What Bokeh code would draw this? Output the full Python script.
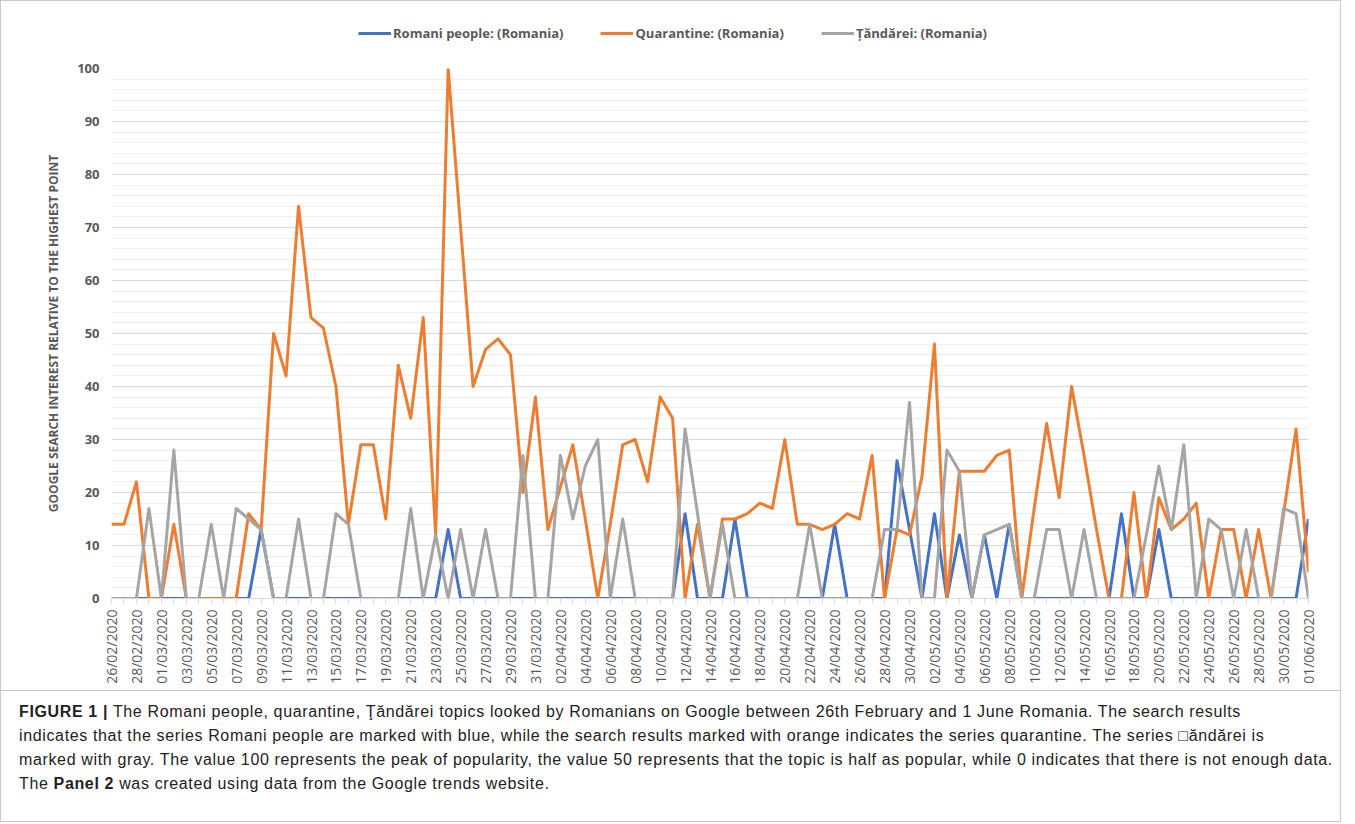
import math
import pandas as pd
from bokeh.plotting import figure
from bokeh.models import (Range1d, FixedTicker, Legend, LegendItem, Div,
                          ColumnDataSource)
from bokeh.layouts import column
from bokeh.embed import file_html
from bokeh.resources import INLINE

# ---------------- data ----------------
dates = [d.strftime("%d/%m/%Y") for d in pd.date_range("2020-02-26", "2020-06-01", freq="D")]

romani = [0, 0, 0, 0, 0, 0, 0, 0, 0, 0,
          0, 0, 13, 0, 0, 0, 0, 0, 0, 0,
          0, 0, 0, 0, 0, 0, 0, 13, 0, 0,
          0, 0, 0, 0, 0, 0, 0, 0, 0, 0,
          0, 0, 0, 0, 0, 0, 16, 0, 0, 0,
          15, 0, 0, 0, 0, 0, 0, 0, 14, 0,
          0, 0, 0, 26, 13, 0, 16, 0, 12, 0,
          12, 0, 14, 0, 0, 0, 0, 0, 0, 0,
          0, 16, 0, 0, 13, 0, 0, 0, 0, 0,
          0, 0, 0, 0, 0, 0, 15]

quarantine = [14, 14, 22, 0, 0, 14, 0, 0, 0, 0,
              0, 16, 13, 50, 42, 74, 53, 51, 40, 14,
              29, 29, 15, 44, 34, 53, 12, 100, 70, 40,
              47, 49, 46, 20, 38, 13, 21, 29, 15, 0,
              14, 29, 30, 22, 38, 34, 0, 14, 0, 15,
              15, 16, 18, 17, 30, 14, 14, 13, 14, 16,
              15, 27, 0, 13, 12, 23, 48, 0, 24, 24,
              24, 27, 28, 0, 17, 33, 19, 40, 27, 13,
              0, 0, 20, 0, 19, 13, 15, 18, 0, 13,
              13, 0, 13, 0, 16, 32, 5]

tandarei = [0, 0, 0, 17, 0, 28, 0, 0, 14, 0,
            17, 15, 13, 0, 0, 15, 0, 0, 16, 14,
            0, 0, 0, 0, 17, 0, 12, 0, 13, 0,
            13, 0, 0, 27, 0, 0, 27, 15, 25, 30,
            0, 15, 0, 0, 0, 0, 32, 16, 0, 14,
            0, 0, 0, 0, 0, 0, 14, 0, 0, 0,
            0, 0, 13, 13, 37, 0, 0, 28, 24, 0,
            12, 13, 14, 0, 0, 13, 13, 0, 13, 0,
            0, 0, 0, 12, 25, 13, 29, 0, 15, 13,
            0, 13, 0, 0, 17, 16, 0]

series_names = ["Romani people: (Romania)", "Quarantine: (Romania)", "Țăndărei: (Romania)"]
series_cols = ["romani", "quarantine", "tandarei"]
series_colors = ["#4472C4", "#ED7D31", "#A5A5A5"]
y_ticks = list(range(0, 101, 10))

W = 1339
idx = list(range(len(dates)))
src = ColumnDataSource(dict(x=idx, romani=romani, quarantine=quarantine, tandarei=tandarei))

# ---------------- legend strip (its range shows none of the data) ----------------
lg = figure(width=W, height=57, output_backend="svg", toolbar_location=None,
            x_range=Range1d(-3, -2), y_range=Range1d(-3, -2),
            x_axis_type=None, y_axis_type=None, min_border=0)
lg.outline_line_color = None
lg.xgrid.visible = False
lg.ygrid.visible = False
proxies = [lg.line("x", col, source=src, line_color=c, line_width=3)
           for col, c in zip(series_cols, series_colors)]
legend = Legend(items=[LegendItem(label=n, renderers=[r]) for n, r in zip(series_names, proxies)],
                orientation="horizontal", location=(247, 16))
legend.label_text_font = "Open Sans"
legend.label_text_font_style = "bold"
legend.label_text_font_size = "13px"
legend.label_text_color = "#595959"
legend.glyph_width = 33
legend.glyph_height = 16
legend.label_standoff = 2
legend.spacing = 37
legend.padding = 0
legend.margin = 0
legend.border_line_color = None
legend.background_fill_alpha = 0
lg.add_layout(legend, "center")

# ---------------- chart ----------------
p = figure(width=W, height=632, output_backend="svg", toolbar_location=None,
           x_range=Range1d(0, len(dates) - 1), y_range=Range1d(0, 100),
           min_border_left=110, min_border_right=32, min_border_top=10, min_border_bottom=92)
p.outline_line_color = None
p.background_fill_color = "white"
p.border_fill_color = "white"

for col, c in zip(series_cols, series_colors):
    p.line("x", col, source=src, line_color=c, line_width=3, line_join="round")

# grid
p.xgrid.visible = False
p.ygrid.ticker = FixedTicker(ticks=y_ticks, minor_ticks=list(range(0, 101, 2)))
p.ygrid.grid_line_color = "#d9d9d9"
p.ygrid.grid_line_width = 1
p.ygrid.minor_grid_line_color = "#eeeeee"
p.ygrid.minor_grid_line_width = 1

# y axis
p.yaxis.ticker = FixedTicker(ticks=y_ticks)
p.yaxis.axis_line_color = None
p.yaxis.major_tick_line_color = None
p.yaxis.minor_tick_line_color = None
p.yaxis.major_tick_out = 0
p.yaxis.major_tick_in = 0
p.yaxis.minor_tick_out = 0
p.yaxis.minor_tick_in = 0
p.yaxis.major_label_text_font = "Open Sans"
p.yaxis.major_label_text_font_style = "bold"
p.yaxis.major_label_text_font_size = "13px"
p.yaxis.major_label_text_color = "#595959"
p.yaxis.major_label_standoff = 12
p.yaxis.axis_label = "GOOGLE SEARCH INTEREST RELATIVE TO THE HIGHEST POINT"
p.yaxis.axis_label_text_font = "Open Sans"
p.yaxis.axis_label_text_font_style = "bold"
p.yaxis.axis_label_text_font_size = "12px"
p.yaxis.axis_label_text_color = "#595959"
p.yaxis.axis_label_standoff = 12

# x axis
even = idx[::2]
p.xaxis.ticker = FixedTicker(ticks=even, minor_ticks=idx)
p.xaxis.major_label_overrides = {i: dates[i] for i in even}
p.xaxis.major_label_orientation = math.pi / 2
p.xaxis.major_label_text_font = "Open Sans"
p.xaxis.major_label_text_font_size = "14px"
p.xaxis.major_label_text_color = "#595959"
p.xaxis.major_label_standoff = 6
p.xaxis.axis_line_color = "#d9d9d9"
p.xaxis.major_tick_line_color = "#d9d9d9"
p.xaxis.minor_tick_line_color = "#d9d9d9"
p.xaxis.major_tick_in = 0
p.xaxis.major_tick_out = 5
p.xaxis.minor_tick_in = 0
p.xaxis.minor_tick_out = 5

# ---------------- caption ----------------
caption_html = (
    "<b>FIGURE 1 |</b> The Romani people, quarantine, Ţăndărei topics looked by Romanians on Google "
    "between 26th February and 1 June Romania. The search results<br>"
    "indicates that the series Romani people are marked with blue, while the search results marked "
    "with orange indicates the series quarantine. The series □ăndărei is<br>"
    "marked with gray. The value 100 represents the peak of popularity, the value 50 represents that "
    "the topic is half as popular, while 0 indicates that there is not enough data.<br>"
    "The <b>Panel 2</b> was created using data from the Google trends website."
)
caption = Div(text=caption_html, width=W, height=131, margin=0,
              styles={"font-family": "'Liberation Sans', Arial, sans-serif",
                      "font-size": "16px", "letter-spacing": "0.64px",
                      "line-height": "24px", "color": "#222222",
                      "padding": "9px 0px 0px 18px", "box-sizing": "border-box",
                      "border-top": "1px solid #c8c8c8", "white-space": "nowrap",
                      "overflow": "hidden"})

layout = column(lg, p, caption, spacing=0,
                styles={"border": "1px solid #c8c8c8", "background-color": "white"})

open("out.html", "w").write(file_html(layout, INLINE))
